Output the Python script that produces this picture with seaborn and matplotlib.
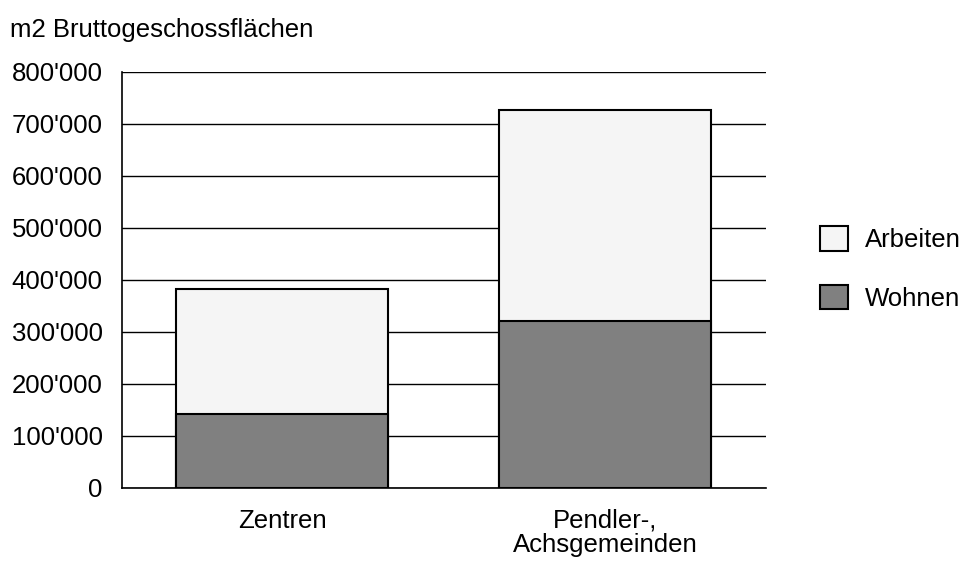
import pandas as pd
import matplotlib
matplotlib.use("Agg")
import matplotlib.pyplot as plt
from matplotlib.patches import Patch
from matplotlib.ticker import FuncFormatter, MultipleLocator
import seaborn as sns

# -----------------------------
# Data (m2 gross floor area)
# -----------------------------
categories = ["Zentren", "Pendler-,\nAchsgemeinden"]
wohnen = [142000, 321000]
arbeiten = [241000, 406000]

total = [w + a for w, a in zip(wohnen, arbeiten)]
df = pd.DataFrame({"Kategorie": categories, "Wohnen": wohnen, "Total": total})

# -----------------------------
# Style
# -----------------------------
sns.set_style("white")
plt.rcParams["font.family"] = ["Liberation Sans", "DejaVu Sans"]
plt.rcParams["text.color"] = "black"
plt.rcParams["xtick.color"] = "black"
plt.rcParams["ytick.color"] = "black"

FS = 18.5
col_arbeiten = "#f5f5f5"
col_wohnen = "#808080"

fig = plt.figure(figsize=(9.66, 5.65), dpi=100)
ax = fig.add_axes([0.1263, 0.1363, 0.6667, 0.7363])

# total bar (Arbeiten on top), then Wohnen over its lower part
sns.barplot(data=df, x="Kategorie", y="Total", color=col_arbeiten,
            edgecolor="black", linewidth=1.5, width=0.656, saturation=1,
            ax=ax, zorder=3)
sns.barplot(data=df, x="Kategorie", y="Wohnen", color=col_wohnen,
            edgecolor="black", linewidth=1.5, width=0.656, saturation=1,
            ax=ax, zorder=4)

ax.set_xlim(-0.495, 1.498)
ax.set_ylim(0, 800000)
ax.yaxis.set_major_locator(MultipleLocator(100000))
ax.yaxis.set_major_formatter(
    FuncFormatter(lambda v, p: f"{int(v):,}".replace(",", "'"))
)
ax.grid(axis="y", color="black", linewidth=1, zorder=0)
ax.set_axisbelow(True)

for s in ["top", "right"]:
    ax.spines[s].set_visible(False)
for s in ["left", "bottom"]:
    ax.spines[s].set_color("black")
    ax.spines[s].set_linewidth(1.2)

ax.tick_params(axis="y", length=0, pad=14, labelsize=FS)
ax.tick_params(axis="x", length=0, pad=15, labelsize=FS)
for lbl in ax.get_xticklabels():
    lbl.set_linespacing(1.0)
ax.set_xlabel("")
ax.set_ylabel("")

fig.text(0.0104, 0.947, "m2 Bruttogeschossflächen", fontsize=FS,
         ha="left", va="center")

handles = [
    Patch(facecolor=col_arbeiten, edgecolor="black", linewidth=1.5, label="Arbeiten"),
    Patch(facecolor=col_wohnen, edgecolor="black", linewidth=1.5, label="Wohnen"),
]
fig.legend(handles=handles, loc="center left", bbox_to_anchor=(0.8432, 0.525),
           frameon=False, fontsize=FS, handlelength=1.1, handleheight=1.1,
           handletextpad=0.65, labelspacing=1.27, borderaxespad=0,
           borderpad=0.2)

fig.savefig("out.png", dpi=100)
